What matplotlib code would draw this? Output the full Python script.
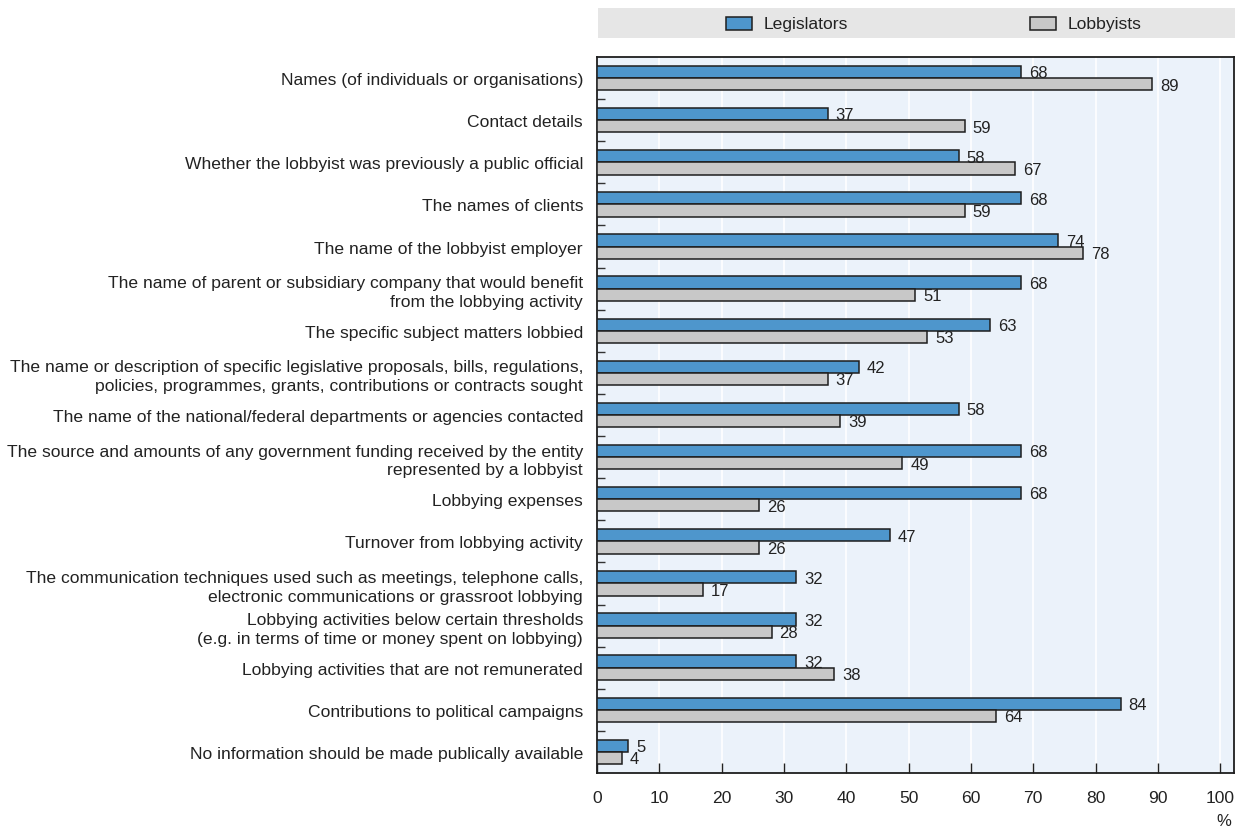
import matplotlib
matplotlib.use("Agg")
import matplotlib.pyplot as plt
from matplotlib.patches import Rectangle
import numpy as np

plt.rcParams['font.family'] = ['Liberation Sans Narrow', 'Liberation Sans', 'DejaVu Sans']

categories = [
    "Names (of individuals or organisations)",
    "Contact details",
    "Whether the lobbyist was previously a public official",
    "The names of clients",
    "The name of the lobbyist employer",
    "The name of parent or subsidiary company that would benefit\nfrom the lobbying activity",
    "The specific subject matters lobbied",
    "The name or description of specific legislative proposals, bills, regulations,\npolicies, programmes, grants, contributions or contracts sought",
    "The name of the national/federal departments or agencies contacted",
    "The source and amounts of any government funding received by the entity\nrepresented by a lobbyist",
    "Lobbying expenses",
    "Turnover from lobbying activity",
    "The communication techniques used such as meetings, telephone calls,\nelectronic communications or grassroot lobbying",
    "Lobbying activities below certain thresholds\n(e.g. in terms of time or money spent on lobbying)",
    "Lobbying activities that are not remunerated",
    "Contributions to political campaigns",
    "No information should be made publically available",
]
legislators = [68, 37, 58, 68, 74, 68, 63, 42, 58, 68, 68, 47, 32, 32, 32, 84, 5]
lobbyists = [89, 59, 67, 59, 78, 51, 53, 37, 39, 49, 26, 26, 17, 28, 38, 64, 4]
series_names = ["Legislators", "Lobbyists"]
xticks = list(range(0, 101, 10))

BLUE = "#4E96CC"
GREY = "#C8C8C8"
EDGE = "#1E1E1E"
BG = "#EBF2FA"
FS = 12
LFS = 12.6

W, H = 1240, 829
fig = plt.figure(figsize=(W / 100, H / 100), dpi=100)

def px_axes(x0, y0, x1, y1):
    return fig.add_axes([x0 / W, 1 - y1 / H, (x1 - x0) / W, (y1 - y0) / H])

ax = px_axes(597, 58, 1234, 774)
ax.set_facecolor(BG)

n = len(categories)
y = np.arange(n)
bh = 0.29
ax.barh(y - bh / 2, legislators, height=bh, color=BLUE, edgecolor=EDGE, linewidth=1.1, zorder=3)
ax.barh(y + bh / 2, lobbyists, height=bh, color=GREY, edgecolor=EDGE, linewidth=1.1, zorder=3)

for i in range(n):
    ax.text(legislators[i] + 1.3, y[i] - bh / 2 + 0.02, str(legislators[i]), va='center', ha='left',
            fontsize=FS, color='#222222', zorder=4)
    ax.text(lobbyists[i] + 1.3, y[i] + bh / 2 + 0.02, str(lobbyists[i]), va='center', ha='left',
            fontsize=FS, color='#222222', zorder=4)

ax.set_xlim(0, 102.2)
ax.set_ylim(n - 0.5, -0.5)
ax.set_xticks(xticks)
ax.set_xticklabels([str(t) for t in xticks], fontsize=LFS, color='#222222')
ax.tick_params(axis='x', direction='in', length=7, width=1, color='#222222', pad=12)
ax.grid(axis='x', color='white', linewidth=1.2, zorder=0)
ax.set_axisbelow(True)

ax.set_yticks(y)
ax.set_yticklabels(categories, fontsize=LFS, color='#222222', linespacing=1.3)
ax.tick_params(axis='y', which='major', length=0, pad=10)
ax.set_yticks(np.arange(0.5, n - 1, 1), minor=True)
ax.tick_params(axis='y', which='minor', direction='in', length=6, width=1, color='#333333')

for s in ax.spines.values():
    s.set_linewidth(1.3)
    s.set_color('#1E1E1E')

ax.text(0.995, -0.066, "%", transform=ax.transAxes, ha='right', va='center', fontsize=FS, color='#222222')

# legend band
lax = px_axes(598, 9, 1235, 39)
lax.set_facecolor("#E6E6E6")
lax.set_xlim(0, 637)
lax.set_ylim(30, 0)
lax.set_xticks([])
lax.set_yticks([])
for s in lax.spines.values():
    s.set_visible(False)
for xp, col, name in [(128, BLUE, series_names[0]), (432, GREY, series_names[1])]:
    lax.add_patch(Rectangle((xp, 8.5), 26, 13, facecolor=col, edgecolor=EDGE, linewidth=1.1))
    lax.text(xp + 38, 15.5, name, ha='left', va='center', fontsize=LFS, color='#222222')

fig.savefig("out.png", dpi=100)
